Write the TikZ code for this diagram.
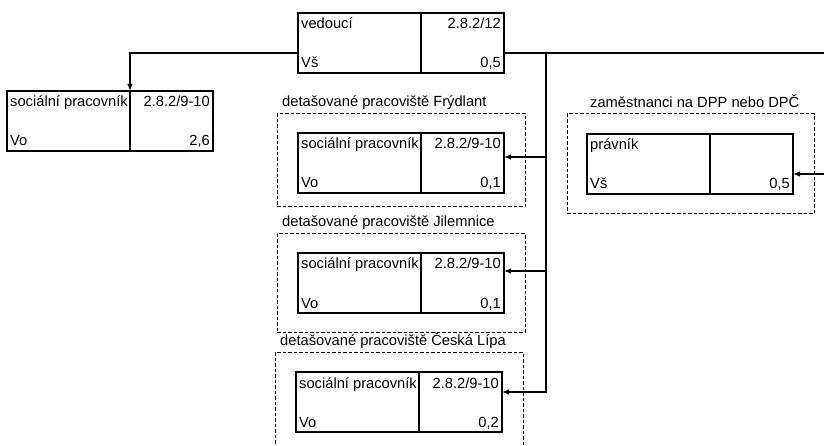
\documentclass[tikz,border=0pt]{standalone}
\usepackage{fontspec}
\setmainfont{Liberation Sans}
\usetikzlibrary{arrows.meta, positioning}

\tikzset{
    cellL/.style={draw, line width=1.2pt, minimum width=123pt, minimum height=60pt, inner sep=0pt, outer sep=0pt},
    cellR/.style={cellL, minimum width=83pt},
    celltext/.style={inner sep=0pt, font=\fontsize{14.7}{17}\selectfont},
    group/.style={draw, line width=1pt, dash pattern=on 3.5pt off 2pt, inner sep=0pt, outer sep=0pt, minimum width=248pt},
    grouplabel/.style={celltext, anchor=base west},
    link/.style={line width=1.2pt},
    arr/.style={link, -{Latex[length=7pt, width=5.5pt]}}
}

% one post: name, north west corner, post, code, education, size
\newcommand{\postbox}[6]{%
    \node[cellL, anchor=north west] (#1-l) at (#2) {};
    \node[cellR, anchor=north west] (#1-r) at (#1-l.north east) {};
    \node[celltext, anchor=base west] (#1-title) at ([xshift=3pt,yshift=-16pt]#1-l.north west) {#3};
    \node[celltext, anchor=base east] (#1-code) at ([xshift=-3pt,yshift=-16pt]#1-r.north east) {#4};
    \node[celltext, anchor=base west] (#1-edu) at ([xshift=3pt,yshift=5pt]#1-l.south west) {#5};
    \node[celltext, anchor=base east] (#1-size) at ([xshift=-3pt,yshift=5pt]#1-r.south east) {#6};
}

\begin{document}
\begin{tikzpicture}[x=1pt, y=-1pt]
    \clip (0,0) rectangle (824,446);
    \fill[white] (0,0) rectangle (824,446);

    % dashed frames
    \node[group, minimum height=93pt, anchor=north west] (fry) at (277,114) {};
    \node[grouplabel] (fry-label) at ([xshift=5pt,yshift=7pt]fry.north west) {detašované pracoviště Frýdlant};
    \node[group, minimum height=98pt, anchor=north west] (jil) at (277,234) {};
    \node[grouplabel] (jil-label) at ([xshift=5pt,yshift=7pt]jil.north west) {detašované pracoviště Jilemnice};
    \node[group, minimum height=120pt, anchor=north west] (lipa) at (275,352) {};
    \node[grouplabel] (lipa-label) at ([xshift=5pt,yshift=7pt]lipa.north west) {detašované pracoviště Česká Lípa};
    \node[group, minimum width=247pt, minimum height=100pt, anchor=north west] (dpp) at (567,114) {};
    \node[grouplabel] (dpp-label) at ([xshift=23pt,yshift=6pt]dpp.north west) {zaměstnanci na DPP nebo DPČ};

    % posts
    \postbox{boss}{298,13}{vedoucí}{2.8.2/12}{Vš}{0,5}
    \postbox{soc}{7,91}{sociální pracovník}{2.8.2/9-10}{Vo}{2,6}
    \postbox{socfry}{298,133}{sociální pracovník}{2.8.2/9-10}{Vo}{0,1}
    \postbox{socjil}{298,253}{sociální pracovník}{2.8.2/9-10}{Vo}{0,1}
    \postbox{soclipa}{296,372}{sociální pracovník}{2.8.2/9-10}{Vo}{0,2}
    \postbox{law}{587,134}{právník}{}{Vš}{0,5}

    % connectors
    \coordinate (trunk) at (546,53);
    \coordinate (edge) at (834,53);
    \draw[arr] ([yshift=-10pt]boss-l.west) -| (soc-l.north east);
    \draw[link] ([yshift=-10pt]boss-r.east) -- (edge);
    \draw[arr] (trunk) |- ([yshift=6pt]socfry-r.east);
    \draw[arr] (trunk) |- ([yshift=12pt]socjil-r.east);
    \draw[arr] (trunk) |- ([yshift=10pt]soclipa-r.east);
    \draw[arr] (edge) |- ([yshift=-10pt]law-r.east);
\end{tikzpicture}
\end{document}
